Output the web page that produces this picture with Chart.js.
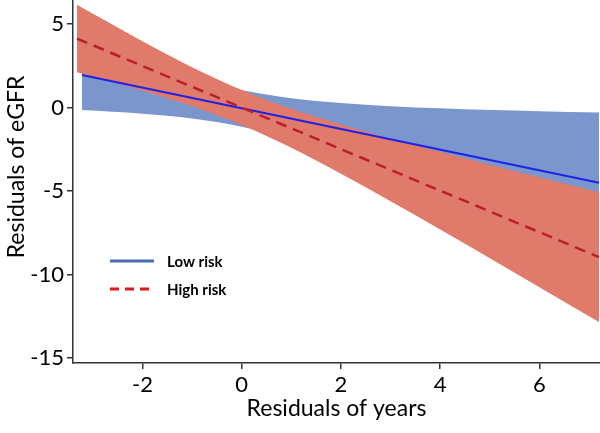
<!DOCTYPE html>
<html>
<head>
<meta charset="utf-8">
<script src="https://cdn.jsdelivr.net/npm/chart.js@4"></script>
<style>
  html, body { margin: 0; padding: 0; background: #fff; }
  #wrap { width: 600px; height: 433px; }
</style>
</head>
<body>
<div id="wrap"><canvas id="chart" width="600" height="433"></canvas></div>
<script>
// ===== DATA =====
const xTicks = [-2, 0, 2, 4, 6];
const yTicks = [-15, -10, -5, 0, 5];

// Low risk: fitted line + confidence band
const lowLineX = [-3.22, 7.2];
const lowLineY = [1.95, -4.51];
const lowBandX = [-3.22, -2, -1, 0, 1, 2, 3, 4, 5, 6, 7.2];
const lowBandUpper = [4.05, 2.75, 1.80, 1.05, 0.56, 0.27, 0.08, -0.05, -0.15, -0.22, -0.3];
const lowBandLower = [-0.15, -0.37, -0.66, -1.15, -1.90, -2.85, -3.90, -5.01, -6.13, -7.28, -8.65];

// High risk: fitted line + confidence band
const highLineX = [-3.32, 7.2];
const highLineY = [4.13, -8.96];
const highBandX = [-3.32, -2, -1, 0, 1, 2, 3, 4, 5, 6, 7.2];
const highBandUpper = [6.15, 3.97, 2.41, 1.05, -0.08, -1.01, -1.86, -2.65, -3.42, -4.18, -5.07];
const highBandLower = [2.11, 1.01, 0.08, -1.05, -2.41, -3.97, -5.61, -7.31, -9.03, -10.76, -12.85];

const pts = (xs, ys) => xs.map((x, i) => ({ x, y: ys[i] }));

const FONT = 'Lato, "Open Sans", sans-serif';
const AXIS = '#333333';
const Y_TITLE = 'Residuals of eGFR';

// in-plot legend + y title, placed like the original figure
const legendItems = [
  { label: 'Low risk', color: '#4a6db0', dash: [] },
  { label: 'High risk', color: '#e0161c', dash: [9, 6] }
];

const extras = {
  id: 'extras',
  afterDraw(chart) {
    const { ctx, chartArea } = chart;
    const x0 = chartArea.left + 37;
    let y = chartArea.top + 261;
    ctx.save();
    for (const item of legendItems) {
      ctx.beginPath();
      ctx.setLineDash(item.dash);
      ctx.lineWidth = 3;
      ctx.strokeStyle = item.color;
      ctx.moveTo(x0, y);
      ctx.lineTo(x0 + 44, y);
      ctx.stroke();
      ctx.setLineDash([]);
      ctx.fillStyle = '#000';
      ctx.font = 'bold 15px ' + FONT;
      ctx.textBaseline = 'middle';
      ctx.fillText(item.label, x0 + 57, y + 1);
      y += 28;
    }
    // y axis title, a bit above the centre as in the source
    ctx.translate(17, chartArea.top + 167);
    ctx.rotate(-Math.PI / 2);
    ctx.font = '23px ' + FONT;
    ctx.textAlign = 'center';
    ctx.textBaseline = 'middle';
    ctx.fillText(Y_TITLE, 0, 0);
    ctx.restore();
  }
};

const band = (data, color, fill) => ({
  data,
  borderWidth: 0,
  pointRadius: 0,
  backgroundColor: color,
  cubicInterpolationMode: 'monotone',
  fill
});

new Chart(document.getElementById('chart'), {
  type: 'line',
  data: {
    datasets: [
      {
        label: 'High risk',
        data: pts(highLineX, highLineY),
        borderColor: '#bb1f2c',
        borderWidth: 2.5,
        borderDash: [11, 7],
        pointRadius: 0,
        fill: false
      },
      {
        label: 'Low risk',
        data: pts(lowLineX, lowLineY),
        borderColor: '#1f22e6',
        borderWidth: 2,
        pointRadius: 0,
        fill: false
      },
      band(pts(highBandX, highBandUpper), '#e07b6b', '+1'),
      band(pts(highBandX, highBandLower), '#e07b6b', false),
      band(pts(lowBandX, lowBandUpper), '#7a96cd', '+1'),
      band(pts(lowBandX, lowBandLower), '#7a96cd', false)
    ]
  },
  options: {
    responsive: false,
    animation: false,
    layout: { padding: 0, autoPadding: false },
    plugins: {
      legend: { display: false },
      tooltip: { enabled: false }
    },
    scales: {
      x: {
        type: 'linear',
        min: -3.4,
        max: 7.22,
        afterBuildTicks(scale) { scale.ticks = xTicks.map(v => ({ value: v })); },
        afterFit(scale) {
          scale.height = 70;
          scale.paddingLeft = 0;
          scale.paddingRight = 0;
        },
        grid: { drawOnChartArea: false, color: AXIS, tickLength: 6, lineWidth: 1.5 },
        border: { color: AXIS, width: 1.5 },
        ticks: { color: '#000', font: { family: FONT, size: 22 }, padding: 3 },
        title: {
          display: true,
          text: 'Residuals of years',
          color: '#000',
          font: { family: FONT, size: 23 },
          padding: { top: 0, bottom: 11 }
        }
      },
      y: {
        min: -15.3,
        max: 6.44,
        afterBuildTicks(scale) { scale.ticks = yTicks.map(v => ({ value: v })); },
        afterFit(scale) {
          scale.width = 73;
          scale.paddingTop = 0;
          scale.paddingBottom = 0;
        },
        grid: { drawOnChartArea: false, color: AXIS, tickLength: 6, lineWidth: 1.5 },
        border: { color: AXIS, width: 1.5 },
        ticks: { color: '#000', font: { family: FONT, size: 22 }, padding: 3 }
      }
    }
  },
  plugins: [extras]
});
</script>
</body>
</html>
